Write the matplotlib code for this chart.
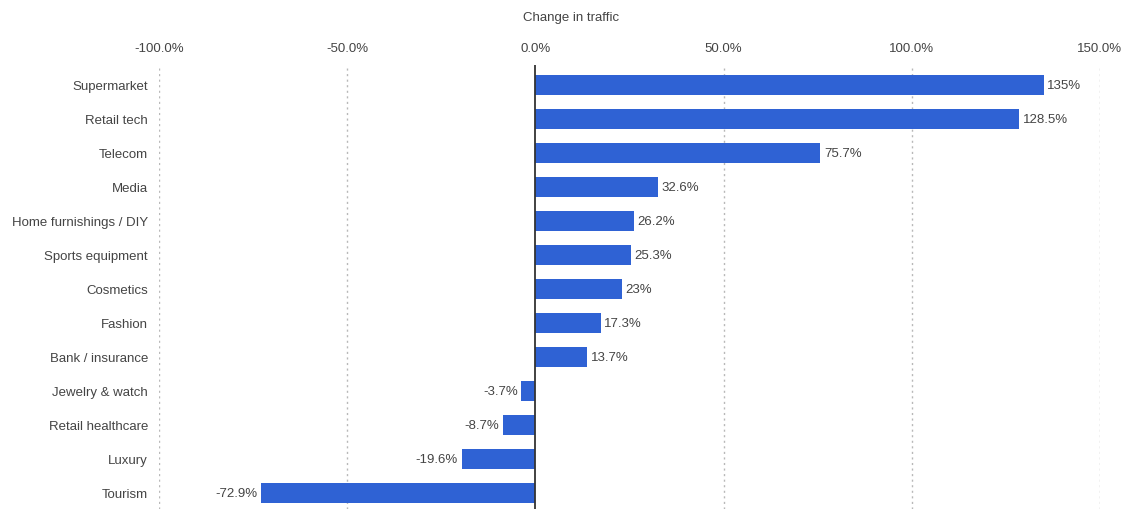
import matplotlib.pyplot as plt
from matplotlib.ticker import FuncFormatter

categories = ["Supermarket", "Retail tech", "Telecom", "Media", "Home furnishings / DIY",
              "Sports equipment", "Cosmetics", "Fashion", "Bank / insurance",
              "Jewelry & watch", "Retail healthcare", "Luxury", "Tourism"]
values = [135, 128.5, 75.7, 32.6, 26.2, 25.3, 23, 17.3, 13.7, -3.7, -8.7, -19.6, -72.9]
value_labels = ["135%", "128.5%", "75.7%", "32.6%", "26.2%", "25.3%", "23%", "17.3%",
                "13.7%", "-3.7%", "-8.7%", "-19.6%", "-72.9%"]
ticks = [-100, -50, 0, 50, 100, 150]

plt.rcParams['font.family'] = ['Liberation Sans', 'DejaVu Sans']
text_col = "#444444"
fs = 9.5

fig = plt.figure(figsize=(11.26, 5.09), dpi=100)
ax = fig.add_axes([159 / 1126, 0.0, 941 / 1126, 444 / 509])

pos = list(range(len(categories)))
ax.barh(pos, values, height=0.6, color="#2f62d4", zorder=3)

for y, v, lab in zip(pos, values, value_labels):
    if v >= 0:
        ax.text(v + 1.0, y + 0.04, lab, va="center", ha="left", fontsize=fs, color=text_col)
    else:
        ax.text(v - 1.0, y + 0.04, lab, va="center", ha="right", fontsize=fs, color=text_col)

ax.set_xlim(-100, 150)
ax.set_ylim(12.47, -0.59)
ax.set_xticks(ticks)
ax.xaxis.set_major_formatter(FuncFormatter(lambda x, p: f"{x:.1f}%"))
ax.xaxis.tick_top()
ax.tick_params(axis="x", length=0, pad=7.5, labelsize=fs, labelcolor=text_col)
ax.set_yticks(pos)
ax.set_yticklabels(categories)
ax.tick_params(axis="y", length=0, pad=8, labelsize=fs, labelcolor=text_col)

for t in ticks:
    if t != 0:
        ax.axvline(t, color="#b8b8b8", linestyle=(0, (1.5, 2.5)), linewidth=1, zorder=1)
ax.axvline(0, color="#333333", linewidth=1.3, zorder=4)

for s in ax.spines.values():
    s.set_visible(False)

fig.text(571 / 1126, 1 - 18 / 509, "Change in traffic", ha="center", va="center",
         fontsize=fs, color=text_col)

fig.savefig("out.png", dpi=100)
